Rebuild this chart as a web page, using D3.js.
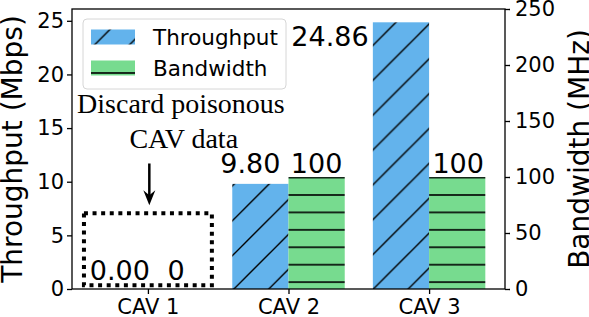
<!DOCTYPE html>
<meta charset="utf-8">
<style>
body { margin: 0; background: #fff; }
svg text { font-family: "DejaVu Sans", sans-serif; }
.note { font-family: "Liberation Serif", "Times New Roman", serif; }
</style>
<body>
<svg width="589" height="317"></svg>
<script src="https://cdn.jsdelivr.net/npm/d3@7"></script>
<script>
// chart values
var categories = ["CAV 1", "CAV 2", "CAV 3"];
var throughput = [0.00, 9.80, 24.86];   // Mbps, left axis
var bandwidth = [0, 100, 100];          // MHz, right axis
var leftTicks = [0, 5, 10, 15, 20, 25];
var rightTicks = [0, 50, 100, 150, 200, 250];
var seriesNames = ["Throughput", "Bandwidth"];

var blue = "#63b3ec", green = "#77db8f";

var svg = d3.select("svg"),
    margin = {top: 9, right: 84, bottom: 28, left: 72},
    W = +svg.attr("width"), H = +svg.attr("height"),
    width = W - margin.left - margin.right,
    height = H - margin.top - margin.bottom,
    ox = margin.left, oy = margin.top;

// hatch patterns, tiled from the page origin like matplotlib does
var defs = svg.append("defs");
var P = 34.86;
var diag = defs.append("pattern").attr("id", "hatchDiag")
    .attr("patternUnits", "userSpaceOnUse")
    .attr("width", P).attr("height", P);
diag.append("rect").attr("width", P).attr("height", P).attr("fill", blue);
diag.append("path")
    .attr("d", "M0," + P + "L" + P + ",0M-2,2L2,-2M" + (P - 2) + "," + (P + 2) + "L" + (P + 2) + "," + (P - 2))
    .attr("stroke", "#000").attr("stroke-width", 1.4);

var hp = P / 2;
var horiz = defs.append("pattern").attr("id", "hatchHoriz")
    .attr("patternUnits", "userSpaceOnUse")
    .attr("x", 0).attr("y", (H % hp) - hp / 2)
    .attr("width", 20).attr("height", hp);
horiz.append("rect").attr("width", 20).attr("height", hp).attr("fill", green);
horiz.append("line").attr("x1", 0).attr("x2", 20)
    .attr("y1", hp / 2).attr("y2", hp / 2)
    .attr("stroke", "#000").attr("stroke-width", 1.6);

var x = d3.scaleLinear().domain([-0.54, 2.54]).range([0, width]);
var yL = d3.scaleLinear().domain([0, 26.1]).range([height, 0]);
var yR = d3.scaleLinear().domain([0, 250]).range([height, 0]);
var bw = 0.4;

// bars (drawn in page coords so the hatch lines up with the page)
var g = svg.append("g");
g.selectAll(".tp").data(throughput).enter().append("rect")
    .attr("x", function(d, i) { return ox + x(i - bw); })
    .attr("y", function(d) { return oy + yL(d); })
    .attr("width", x(bw) - x(0))
    .attr("height", function(d) { return height - yL(d); })
    .attr("fill", "url(#hatchDiag)");

g.selectAll(".bwbar").data(bandwidth).enter().append("rect")
    .attr("x", function(d, i) { return ox + x(i); })
    .attr("y", function(d) { return oy + yR(d); })
    .attr("width", x(bw) - x(0))
    .attr("height", function(d) { return height - yR(d); })
    .attr("fill", "url(#hatchHoriz)");

// value labels: nudges (dx from bar centre, dy from bar top)
var tpNudge = [[0, -9], [-10, -11], [-71, 23.5]];
var bwNudge = [[0, -9], [0, -4], [1, -4]];
g.selectAll(".tpl").data(throughput).enter().append("text")
    .attr("x", function(d, i) { return ox + x(i - bw / 2) + tpNudge[i][0]; })
    .attr("y", function(d, i) { return oy + yL(d) + tpNudge[i][1]; })
    .attr("text-anchor", "middle").style("font-size", "27px")
    .text(function(d) { return d.toFixed(2); });
g.selectAll(".bwl").data(bandwidth).enter().append("text")
    .attr("x", function(d, i) { return ox + x(i + bw / 2) + bwNudge[i][0]; })
    .attr("y", function(d, i) { return oy + yR(d) + bwNudge[i][1]; })
    .attr("text-anchor", "middle").style("font-size", "27px")
    .text(function(d) { return d; });

// axes
var ax = svg.append("g").attr("transform", "translate(" + ox + "," + oy + ")");
ax.append("g").attr("transform", "translate(0," + height + ")")
    .call(d3.axisBottom(x).tickValues([0, 1, 2]).tickFormat(function(d) { return categories[d]; })
      .tickSize(5).tickPadding(5))
    .call(function(s) { s.select(".domain").remove(); })
    .selectAll("text").style("font-size", "21px").attr("fill", "#000");
ax.append("g")
    .call(d3.axisLeft(yL).tickValues(leftTicks).tickSize(5).tickPadding(3))
    .call(function(s) { s.select(".domain").remove(); })
    .selectAll("text").style("font-size", "21px").attr("fill", "#000");
ax.append("g").attr("transform", "translate(" + width + ",0)")
    .call(d3.axisRight(yR).tickValues(rightTicks).tickSize(5).tickPadding(5))
    .call(function(s) { s.select(".domain").remove(); })
    .selectAll("text").style("font-size", "21px").attr("fill", "#000");
ax.selectAll(".tick line").attr("stroke", "#000").attr("stroke-width", 1.3);
ax.append("rect").attr("width", width).attr("height", height)
    .attr("fill", "none").attr("stroke", "#000").attr("stroke-width", 1.3);

// axis titles
svg.append("text")
    .attr("transform", "translate(22," + (oy + height / 2) + ") rotate(-90)")
    .attr("text-anchor", "middle").style("font-size", "28px")
    .text("Throughput (Mbps)");
svg.append("text")
    .attr("transform", "translate(589," + (oy + height / 2) + ") rotate(-90)")
    .attr("text-anchor", "middle").style("font-size", "28px")
    .text("Bandwidth (MHz)");

// annotation
var note = svg.append("g");
note.append("text").attr("class", "note")
    .attr("x", ox + x(0.235)).attr("y", oy + yL(16.45))
    .attr("text-anchor", "middle").style("font-size", "28px")
    .text("Discard poisonous");
note.append("text").attr("class", "note")
    .attr("x", ox + x(0.255)).attr("y", oy + yL(13.1))
    .attr("text-anchor", "middle").style("font-size", "28px")
    .text("CAV data");
var axx = ox + x(0.01), ay1 = oy + yL(11.7), ay2 = oy + yL(7.8);
note.append("line").attr("x1", axx).attr("x2", axx)
    .attr("y1", ay1).attr("y2", ay2 - 8)
    .attr("stroke", "#000").attr("stroke-width", 2.5);
note.append("path")
    .attr("d", "M" + axx + "," + ay2 + "L" + (axx - 6) + "," + (ay2 - 15) +
               "L" + axx + "," + (ay2 - 10) + "L" + (axx + 6) + "," + (ay2 - 15) + "Z")
    .attr("fill", "#000");
note.append("rect")
    .attr("x", ox + x(-0.455)).attr("y", oy + yL(7.05))
    .attr("width", x(0.455) - x(-0.455)).attr("height", yL(0.35) - yL(7.05))
    .attr("fill", "none").attr("stroke", "#000").attr("stroke-width", 4)
    .attr("stroke-dasharray", "4,4.6");

// legend
var lg = svg.append("g");
lg.append("rect").attr("x", 83).attr("y", 19).attr("width", 203).attr("height", 70)
    .attr("rx", 4).attr("fill", "#fff").attr("fill-opacity", 0.8)
    .attr("stroke", "#d6d6d6").attr("stroke-width", 1);
var fills = ["url(#hatchDiag)", "url(#hatchHoriz)"];
seriesNames.forEach(function(name, i) {
  var cy = 37 + i * 31;
  lg.append("rect").attr("x", 91).attr("y", cy - 7.5).attr("width", 44).attr("height", 15)
    .attr("fill", fills[i]);
  lg.append("text").attr("x", 153).attr("y", cy + 7.5)
    .style("font-size", "21.5px").text(name);
});
</script>
</body>
